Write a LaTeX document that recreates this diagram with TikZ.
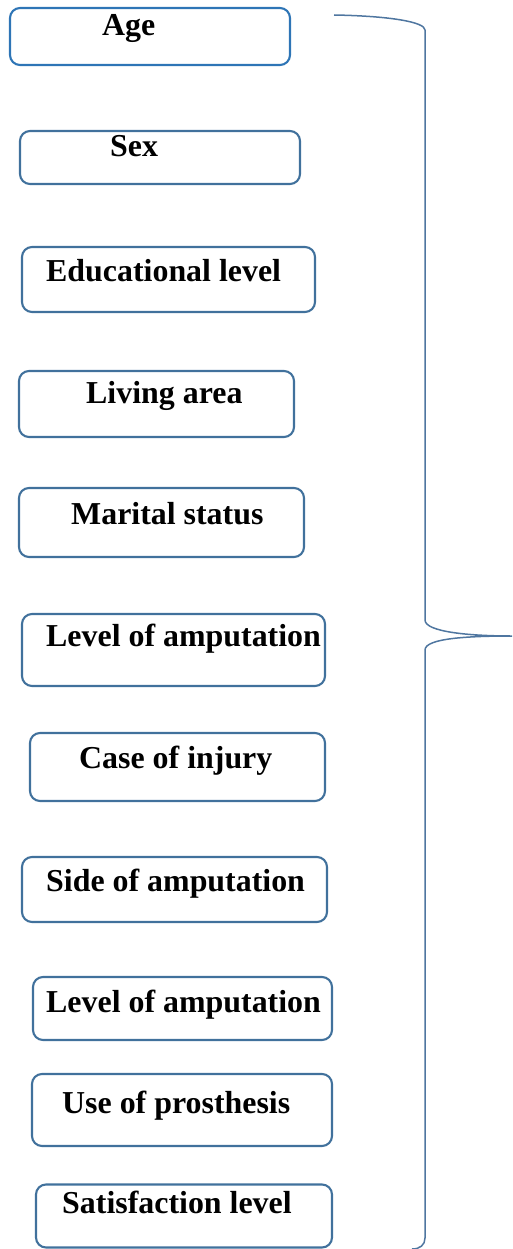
\documentclass[tikz,border=0pt]{standalone}
\usepackage{fontspec}
\setmainfont{Liberation Serif}
\definecolor{boxblue}{HTML}{41719C}
\definecolor{ageblue}{HTML}{2E75B6}
\definecolor{bracecol}{HTML}{4F76A0}
\definecolor{bracedark}{HTML}{1F4E79}
\begin{document}
\begin{tikzpicture}[x=1pt,y=-1pt,
  box/.style={draw=boxblue, line width=2.1pt, rounded corners=10pt, inner sep=0pt},
  lbl/.style={anchor=base west, inner sep=0pt, font=\bfseries\fontsize{31.9}{38}\selectfont}]
\useasboundingbox (0,0) rectangle (512,1249);
\begin{scope}
\clip (0,0) rectangle (512,1249);
\node[box, draw=ageblue, minimum width=280pt, minimum height=57pt] (b1) at (150,36.5) {};
\node[box, minimum width=280pt, minimum height=53pt] (b2) at (160,157.5) {};
\node[box, minimum width=293pt, minimum height=65pt] (b3) at (168.5,279.5) {};
\node[box, minimum width=275pt, minimum height=66pt] (b4) at (156.5,404) {};
\node[box, minimum width=285pt, minimum height=69pt] (b5) at (161.5,522.5) {};
\node[box, minimum width=303pt, minimum height=72pt] (b6) at (173.5,650) {};
\node[box, minimum width=295pt, minimum height=68pt] (b7) at (177.5,767) {};
\node[box, minimum width=305pt, minimum height=65pt] (b8) at (174.5,889.5) {};
\node[box, minimum width=299pt, minimum height=63pt] (b9) at (182.5,1008.5) {};
\node[box, minimum width=300pt, minimum height=72pt] (b10) at (182,1110) {};
\node[box, minimum width=296pt, minimum height=63pt] (b11) at (184,1216) {};
\end{scope}
\node[lbl] (t1) at (102,36) {Age};
\node[lbl] (t2) at (110,157) {Sex};
\node[lbl] (t3) at (46,281) {Educational level};
\node[lbl] (t4) at (86,403) {Living area};
\node[lbl] (t5) at (71,524) {Marital status};
\node[lbl] (t6) at (46,646) {Level of amputation};
\node[lbl] (t7) at (79,768) {Case of injury};
\node[lbl] (t8) at (46,891) {Side of amputation};
\node[lbl] (t9) at (46,1012) {Level of amputation};
\node[lbl] (t10) at (62,1113) {Use of prosthesis};
\node[lbl] (t11) at (62,1213) {Satisfaction level};
% brace
\coordinate (btop) at (334,15);
\coordinate (btip) at (512,636);
\coordinate (bbot) at (412,1249);
\draw[bracecol, line width=1.5pt]
  (btop) .. controls (390,16) and (425,22) .. (425,30)
  -- (425,620) .. controls (425,632) and (470,636) .. (btip)
  (btip) .. controls (470,636) and (425,638) .. (425,650)
  -- (425,1238) .. controls (425,1245) and (420,1249) .. (bbot);
\end{tikzpicture}
\end{document}
